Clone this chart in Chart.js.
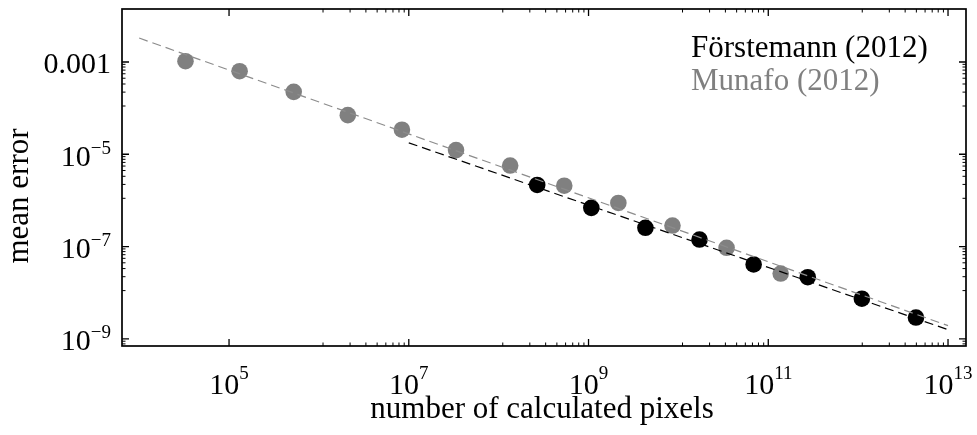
<!DOCTYPE html>
<html>
<head>
<meta charset="utf-8">
<script src="https://cdn.jsdelivr.net/npm/chart.js@4"></script>
<style>
  body { margin: 0; background: #fff; }
  #wrap { width: 977px; height: 435px; }
</style>
</head>
<body>
<div id="wrap"><canvas id="errChart" width="977" height="435"></canvas></div>
<script>
// data (x = number of pixels, y = mean error)
const forstemannLabel = 'Förstemann (2012)';
const forstemannPixels = [268435456, 1073741824, 4294967296, 17179869184, 68719476736, 274877906944, 1099511627776, 4398046511104];
const forstemannError = [2.16e-6, 6.9e-7, 2.55e-7, 1.42e-7, 4.1e-8, 2.17e-8, 7.4e-9, 2.9e-9];

const munafoLabel = 'Munafo (2012)';
const munafoPixels = [32768, 131072, 524288, 2097152, 8388608, 33554432, 134217728, 536870912, 2147483648, 8589934592, 34359738368, 137438953472];
const munafoError = [1.04e-3, 6.3e-4, 2.25e-4, 7.05e-5, 3.4e-5, 1.23e-5, 5.7e-6, 2.08e-6, 8.8e-7, 2.85e-7, 9.4e-8, 2.6e-8];

// fitted power laws (end points)
const forstemannFitX = [1e7, 1e13];
const forstemannFitY = [1.77e-5, 1.58e-9];
const munafoFitX = [1e4, 1e13];
const munafoFitY = [3.3e-3, 1.93e-9];

// axes
const xMajorExps = [5, 7, 9, 11, 13];
const xTickLabels = [['10', '5'], ['10', '7'], ['10', '9'], ['10', '11'], ['10', '13']];
const xMinorExps = [7, 9, 11, 13];
const yMajorExps = [-3, -5, -7, -9];
const yTickLabels = [['0.001', ''], ['10', '\u22125'], ['10', '\u22127'], ['10', '\u22129']];
const yMinorExps = [-3, -5, -7, -9];
const xTitle = 'number of calculated pixels';
const yTitle = 'mean error';

const serif = '"Liberation Serif", "DejaVu Serif", serif';
const grey = '#808080';

function pts(xs, ys) {
    return xs.map((x, i) => ({ x: x, y: ys[i] }));
}

function drawPow(ctx, base, exp, x, baseline, align, raise) {
    ctx.font = '30px ' + serif;
    const wb = ctx.measureText(base).width;
    ctx.font = '19px ' + serif;
    const we = exp ? ctx.measureText(exp).width : 0;
    const w = wb + we;
    let left = align === 'center' ? x - w / 2 : x - w;
    ctx.textAlign = 'left';
    ctx.font = '30px ' + serif;
    ctx.fillText(base, left, baseline);
    if (exp) {
        ctx.font = '19px ' + serif;
        ctx.fillText(exp, left + wb, baseline - raise);
    }
}

const framePlugin = {
    id: 'frame',
    afterDraw(chart) {
        const { ctx, chartArea: a, scales: { x, y } } = chart;
        ctx.save();
        ctx.strokeStyle = '#000';
        ctx.fillStyle = '#000';

        // ticks on all four sides, pointing inward
        ctx.lineWidth = 1.3;
        const tickX = (px, len) => {
            ctx.beginPath();
            ctx.moveTo(px, a.bottom); ctx.lineTo(px, a.bottom - len);
            ctx.moveTo(px, a.top); ctx.lineTo(px, a.top + len);
            ctx.stroke();
        };
        const tickY = (py, len) => {
            ctx.beginPath();
            ctx.moveTo(a.left, py); ctx.lineTo(a.left + len, py);
            ctx.moveTo(a.right, py); ctx.lineTo(a.right - len, py);
            ctx.stroke();
        };
        xMajorExps.forEach(e => tickX(x.getPixelForValue(Math.pow(10, e)), 7));
        yMajorExps.forEach(e => tickY(y.getPixelForValue(Math.pow(10, e)), 7));
        ctx.lineWidth = 1;
        xMinorExps.forEach(e => {
            for (let k = 1; k <= 8; k++) {
                const px = x.getPixelForValue(Math.pow(10, e) * k / 9);
                if (px > a.left && px < a.right) tickX(px, 3.5);
            }
        });
        yMinorExps.forEach(e => {
            for (let k = 1; k <= 8; k++) {
                const py = y.getPixelForValue(Math.pow(10, e) * k / 9);
                if (py > a.top && py < a.bottom) tickY(py, 3.5);
            }
        });

        // frame
        ctx.lineWidth = 1.7;
        ctx.strokeRect(a.left, a.top, a.right - a.left, a.bottom - a.top);

        // tick labels
        ctx.textBaseline = 'alphabetic';
        xMajorExps.forEach((e, i) => {
            const px = x.getPixelForValue(Math.pow(10, e));
            drawPow(ctx, xTickLabels[i][0], xTickLabels[i][1], px, 394, 'center', 15);
        });
        yMajorExps.forEach((e, i) => {
            const py = y.getPixelForValue(Math.pow(10, e));
            drawPow(ctx, yTickLabels[i][0], yTickLabels[i][1], 111, py + 11.5, 'right', 12);
        });

        // axis titles
        ctx.font = '31px ' + serif;
        ctx.textAlign = 'center';
        ctx.fillText(xTitle, 542, 418);
        ctx.save();
        ctx.translate(28, 196);
        ctx.rotate(-Math.PI / 2);
        ctx.fillText(yTitle, 0, 0);
        ctx.restore();

        // legend
        ctx.textAlign = 'left';
        ctx.fillStyle = '#000';
        ctx.fillText(forstemannLabel, 691, 57);
        ctx.fillStyle = grey;
        ctx.fillText(munafoLabel, 691, 90);
        ctx.restore();
    }
};

new Chart(document.getElementById('errChart'), {
    type: 'scatter',
    data: {
        datasets: [
            {
                label: munafoLabel + ' fit',
                data: pts(munafoFitX, munafoFitY),
                showLine: true,
                borderColor: '#8c8c8c',
                borderWidth: 1.2,
                borderDash: [9, 5],
                pointRadius: 0,
                order: 0
            },
            {
                label: forstemannLabel + ' fit',
                data: pts(forstemannFitX, forstemannFitY),
                showLine: true,
                borderColor: '#000',
                borderWidth: 1.2,
                borderDash: [9, 5],
                pointRadius: 0,
                order: 0
            },
            {
                label: munafoLabel,
                data: pts(munafoPixels, munafoError),
                backgroundColor: grey,
                borderColor: grey,
                borderWidth: 0,
                pointRadius: 8.3,
                order: 1
            },
            {
                label: forstemannLabel,
                data: pts(forstemannPixels, forstemannError),
                backgroundColor: '#000',
                borderColor: '#000',
                borderWidth: 0,
                pointRadius: 8.3,
                order: 1
            }
        ]
    },
    options: {
        responsive: false,
        animation: false,
        layout: { padding: { top: 9, right: 11, left: 0, bottom: 0 } },
        plugins: {
            legend: { display: false },
            tooltip: { enabled: false }
        },
        scales: {
            x: {
                type: 'logarithmic',
                min: Math.pow(10, 3.809),
                max: Math.pow(10, 13.2),
                grid: { display: false },
                border: { display: false },
                ticks: { display: false },
                afterFit(scale) { scale.height = 89; }
            },
            y: {
                type: 'logarithmic',
                min: Math.pow(10, -9.152),
                max: Math.pow(10, -1.852),
                grid: { display: false },
                border: { display: false },
                ticks: { display: false },
                afterFit(scale) { scale.width = 122; }
            }
        }
    },
    plugins: [framePlugin]
});
</script>
</body>
</html>
